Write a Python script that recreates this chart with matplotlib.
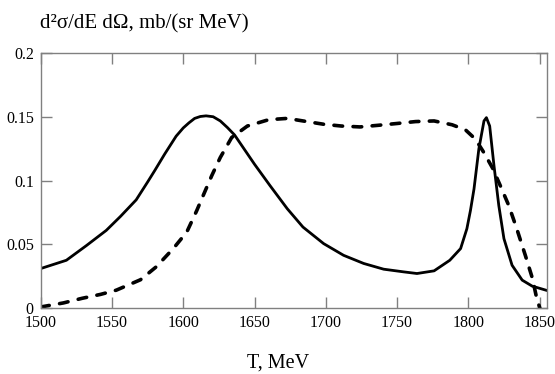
import matplotlib.pyplot as plt
import numpy as np

# solid curve
T_solid = [1500, 1518, 1532, 1546, 1556, 1567, 1575, 1580, 1587, 1595, 1600, 1604,
           1608, 1612, 1616, 1621, 1626, 1631, 1636,
           1650, 1661, 1673, 1684, 1698.5, 1712.5, 1726.6, 1740.6, 1754.6, 1764,
           1776, 1787, 1794.6, 1799, 1801.5, 1804, 1807.4, 1811, 1812.7, 1815,
           1818, 1821.4, 1825, 1830.7, 1837.8, 1844.8, 1856]
sig_solid = [0.031, 0.0375, 0.049, 0.061, 0.072, 0.085, 0.099, 0.108, 0.121, 0.135,
             0.1415, 0.1455, 0.149, 0.1505, 0.151, 0.1503, 0.147, 0.1418, 0.136,
             0.113, 0.096, 0.078, 0.0636, 0.0506, 0.0414, 0.035,
             0.0305, 0.0284, 0.0271, 0.0292, 0.0375, 0.0467, 0.0623, 0.0766,
             0.0936, 0.125, 0.147, 0.1496, 0.143, 0.112, 0.0805, 0.0545, 0.0336,
             0.0219, 0.0172, 0.0135]

# dashed curve
T_dash = [1500, 1516, 1529, 1542, 1553, 1570, 1581, 1593, 1602.5, 1609.5, 1615,
          1620, 1626, 1634, 1645, 1660, 1673, 1684, 1698.5, 1711, 1724, 1737,
          1750, 1763, 1776, 1788.6, 1798, 1805, 1811, 1817, 1822.5, 1828.4, 1834,
          1840, 1845, 1848, 1851]
sig_dash = [0.0008, 0.004, 0.0076, 0.0107, 0.014, 0.0222, 0.0323, 0.0467, 0.0597,
            0.0766, 0.091, 0.104, 0.1183, 0.134, 0.143, 0.148, 0.149, 0.147,
            0.1444, 0.143, 0.1423, 0.1436, 0.145, 0.1465, 0.147, 0.144, 0.140,
            0.1327, 0.122, 0.110, 0.096, 0.0805, 0.0623, 0.0414, 0.0232, 0.0076,
            -0.003]

x_ticks = [1500, 1550, 1600, 1650, 1700, 1750, 1800, 1850]
y_ticks = [0, 0.05, 0.1, 0.15, 0.2]
y_labels = ['0', '0.05', '0.1', '0.15', '0.2']

plt.rcParams['font.family'] = ['Liberation Serif', 'DejaVu Serif']

fig = plt.figure(figsize=(5.55, 3.74), dpi=100)
ax = fig.add_axes([40.7 / 555, 1 - 308 / 374, 506 / 555, 254.5 / 374])

ax.plot(T_solid, sig_solid, color='black', lw=2.0, solid_joinstyle='round')
ax.plot(T_dash, sig_dash, color='black', lw=2.6, linestyle=(0, (2.4, 2.9)),
        dash_capstyle='round')

ax.set_xlim(1500, 1855)
ax.set_ylim(0, 0.2)
ax.set_xticks(x_ticks)
ax.set_yticks(y_ticks)
ax.set_yticklabels(y_labels)

for s in ax.spines.values():
    s.set_color('#808080')
    s.set_linewidth(1.0)
ax.tick_params(direction='in', length=8, width=1, color='#808080',
               top=True, right=True, labelsize=11.5, pad=5)

fig.text(40 / 555, 1 - 28 / 374, 'd²σ/dE dΩ, mb/(sr MeV)', fontsize=15,
         ha='left', va='baseline')
fig.text(278 / 555, 1 - 368 / 374, 'T, MeV', fontsize=14.5,
         ha='center', va='baseline')

fig.savefig('out.png', dpi=100)
